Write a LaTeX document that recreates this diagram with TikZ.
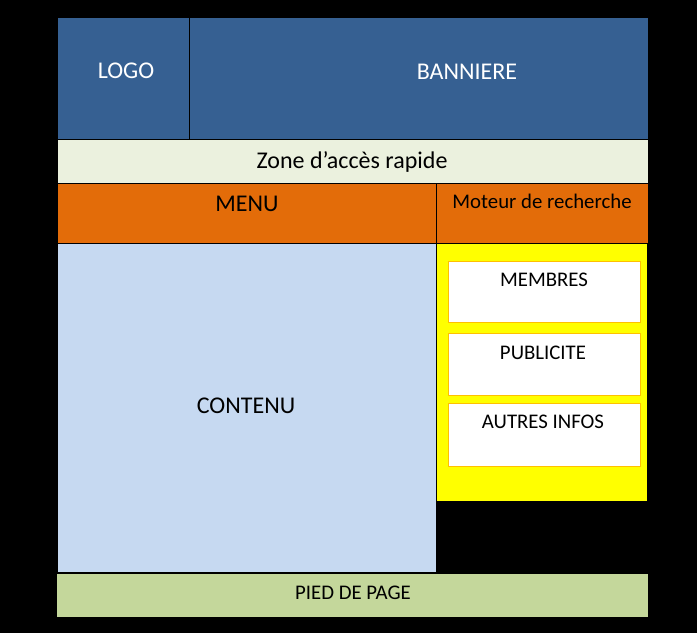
\documentclass[tikz,border=0pt]{standalone}
\usepackage{fontspec}
\setmainfont{Carlito}
\definecolor{bannerblue}{HTML}{366092}
\definecolor{zonegreen}{HTML}{EBF1DE}
\definecolor{menuorange}{HTML}{E36C09}
\definecolor{contentblue}{HTML}{C6D9F1}
\definecolor{sideyellow}{HTML}{FFFF00}
\definecolor{boxborder}{HTML}{FFC000}
\definecolor{footgreen}{HTML}{C4D79B}
\begin{document}
\begin{tikzpicture}[x=1pt,y=-1pt,
  cell/.style={draw=black,line width=1pt,inner sep=0pt,outer sep=0pt},
  big/.style={font=\fontsize{24}{28}\selectfont},
  small/.style={font=\fontsize{20.8}{24}\selectfont},
  sidebox/.style={draw=boxborder,fill=white,line width=0.8pt}]
\fill[black] (0,0) rectangle (697,633);
\useasboundingbox (0,0) rectangle (697,633);
% cells
\filldraw[cell,fill=bannerblue] (57,17) rectangle (189,139);
\filldraw[cell,fill=bannerblue] (189,17) rectangle (648,139);
\filldraw[cell,fill=zonegreen] (57,139) rectangle (648,183);
\filldraw[cell,fill=menuorange] (57,183) rectangle (436,243);
\filldraw[cell,fill=menuorange] (436,183) rectangle (648,243);
\filldraw[cell,fill=contentblue] (57,243) rectangle (436,572);
\fill[sideyellow] (437,244) rectangle (647,501);
\draw[black,line width=1pt] (436.5,243) -- (436.5,501);
\filldraw[sidebox] (448,261.5) rectangle (640,322);
\filldraw[sidebox] (448,333.5) rectangle (640,395);
\filldraw[sidebox] (448,403.5) rectangle (640,466);
\fill[footgreen] (57,574) rectangle (648,617);
% texts
\node[big,text=white] (logo) at (126,71) {LOGO};
\node[big,text=white] (banniere) at (467,72) {BANNIERE};
\node[big] (zone) at (352,162) {Zone d’accès rapide};
\node[big] (menu) at (247,204) {MENU};
\node[small] (moteur) at (542,201) {Moteur de recherche};
\node[small] (membres) at (544,280) {MEMBRES};
\node[small] (pub) at (543,353) {PUBLICITE};
\node[small] (autres) at (543,422) {AUTRES INFOS};
\node[big] (contenu) at (246,406) {CONTENU};
\node[small] (pied) at (353,593) {PIED DE PAGE};
\end{tikzpicture}
\end{document}
